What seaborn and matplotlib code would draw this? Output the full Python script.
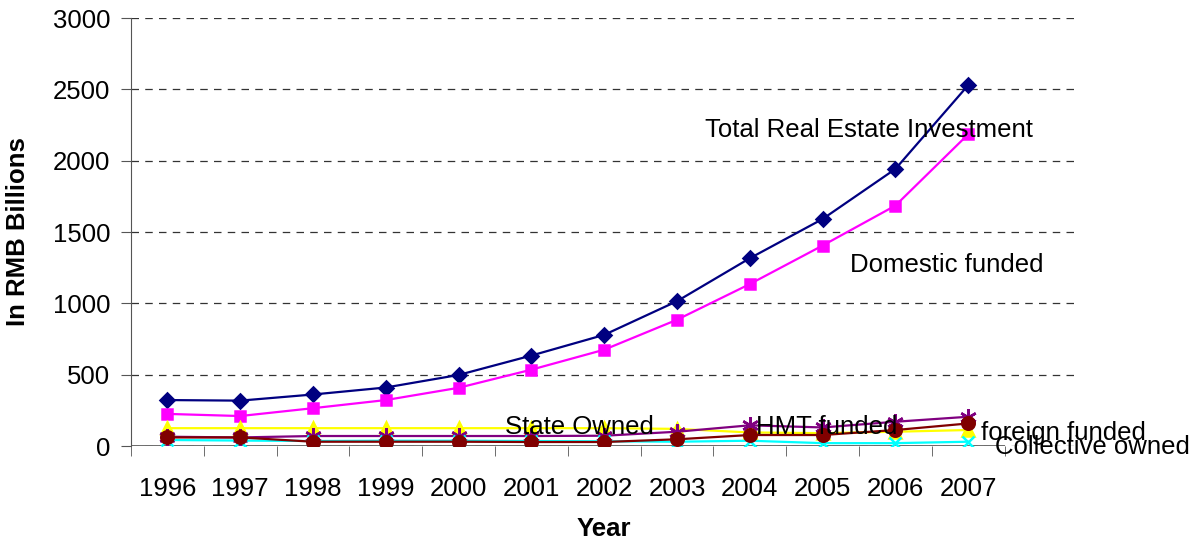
import numpy as np
import pandas as pd
import matplotlib
matplotlib.use('Agg')
import matplotlib.pyplot as plt
import seaborn as sns

years = ['1996', '1997', '1998', '1999', '2000', '2001', '2002', '2003', '2004', '2005', '2006', '2007']
total = [322, 318, 361, 410, 498, 634, 779, 1015, 1316, 1591, 1942, 2529]
domestic = [225, 210, 265, 322, 408, 535, 675, 885, 1135, 1405, 1685, 2185]
state_owned = [125, 125, 125, 125, 125, 125, 125, 120, 95, 90, 100, 112]
hmt = [65, 60, 70, 70, 70, 70, 72, 100, 145, 130, 170, 205]
foreign = [60, 60, 30, 30, 30, 28, 28, 47, 77, 77, 112, 158]
collective = [42, 38, 35, 37, 37, 35, 33, 30, 37, 20, 20, 30]

sns.set_style('white')
plt.rcParams['font.family'] = ['Liberation Sans', 'DejaVu Sans']
plt.rcParams['text.color'] = 'black'
plt.rcParams['axes.labelcolor'] = 'black'
plt.rcParams['xtick.labelcolor'] = 'black'
plt.rcParams['ytick.labelcolor'] = 'black'

df = pd.DataFrame({'pos': np.arange(len(years)), 'total': total, 'domestic': domestic,
                   'state': state_owned, 'hmt': hmt, 'foreign': foreign, 'collective': collective})

fig = plt.figure(figsize=(11.94, 5.46), dpi=100)
ax = fig.add_axes([131/1194, 1 - 446/546, (1077 - 131)/1194, (446 - 18)/546])

# series: column, color, marker, size
styles = [
    ('total', '#000080', 'D', 7.5),
    ('domestic', '#FF00FF', 's', 7.5),
    ('state', '#FFFF00', '^', 9),
    ('hmt', '#800080', (6, 2, 0), 12),
    ('collective', '#00FFFF', 'x', 9),
    ('foreign', '#800000', 'o', 9),
]
for col, c, m, ms in styles:
    sns.lineplot(data=df, x='pos', y=col, ax=ax, color=c, marker=m, markersize=ms,
                 markeredgecolor=c, markerfacecolor=c, markeredgewidth=1.8, linewidth=1.6)

ax.set_ylim(0, 3000)
ax.set_xlim(-0.5, (1077 - 131)/72.8 - 0.5)
ax.set_yticks(range(0, 3001, 500))
ax.yaxis.grid(True, linestyle=(0, (6, 5)), color='#333333', linewidth=0.9)
ax.set_xticks(df['pos'])
ax.set_xticklabels(years)
ax.set_xticks(np.arange(-0.5, len(years)), minor=True)
ax.tick_params(axis='x', which='major', length=0, pad=22, labelsize=18.5)
ax.tick_params(axis='x', which='minor', length=7, direction='out', color='#555555', bottom=True)
ax.tick_params(axis='y', length=7, direction='out', color='#555555', labelsize=18.5, left=True, pad=8)

for s in ['top', 'right', 'bottom']:
    ax.spines[s].set_visible(False)
ax.spines['left'].set_color('#555555')
ax.hlines(0, -0.5, len(years) - 0.5, color='#555555', linewidth=1.2, zorder=1)

ax.set_xlabel('Year', fontsize=18.5, fontweight='bold', labelpad=12)
ax.set_ylabel('In RMB Billions', fontsize=18.5, fontweight='bold', labelpad=16)

labels = [('Total Real Estate Investment', 7.39, 2215),
          ('Domestic funded', 9.38, 1269),
          ('State Owned', 4.64, 133),
          ('HMT funded', 8.08, 133),
          ('foreign funded', 11.17, 91),
          ('Collective owned', 11.37, -7)]
for txt, x, y in labels:
    ax.text(x, y, txt, fontsize=18.5, va='center', ha='left', clip_on=False)

fig.savefig('out.png', dpi=100)
